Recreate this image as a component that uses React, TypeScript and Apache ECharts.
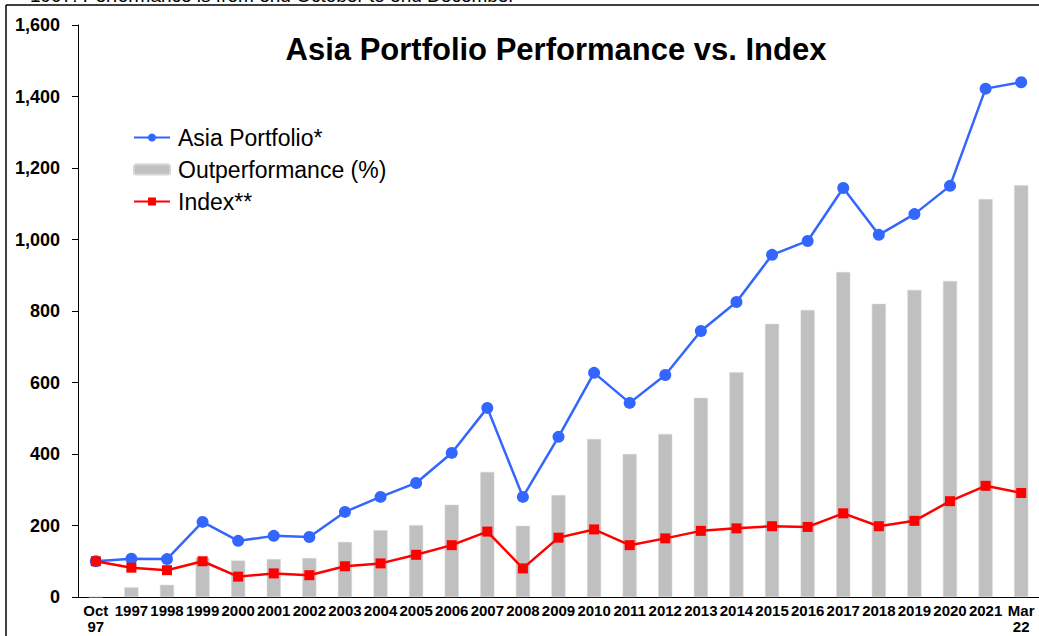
import React, { useEffect, useRef } from "react";
import * as echarts from "echarts";

const categories = ["Oct\n97", "1997", "1998", "1999", "2000", "2001", "2002", "2003", "2004", "2005", "2006", "2007", "2008", "2009", "2010", "2011", "2012", "2013", "2014", "2015", "2016", "2017", "2018", "2019", "2020", "2021", "Mar\n22"];

const asiaPortfolio = [100, 107, 106, 210, 157, 171, 168, 238, 280, 319, 403, 529, 280, 448, 627, 543, 621, 744, 825, 957, 996, 1144, 1013, 1071, 1150, 1422, 1440];

const outperformance = [0, 27, 34, 110, 102, 106, 109, 154, 187, 201, 258, 350, 199, 285, 442, 400, 456, 557, 629, 764, 803, 909, 820, 859, 884, 1113, 1152];

const indexSeries = [100, 82, 75, 100, 57, 66, 61, 86, 94, 118, 145, 183, 80, 166, 189, 145, 164, 185, 192, 198, 196, 234, 198, 213, 268, 311, 291];

const yTicks = [0, 200, 400, 600, 800, 1000, 1200, 1400, 1600];

const FONT = "Arial, 'Liberation Sans', Helvetica, sans-serif";

export default function App() {
  const ref = useRef<HTMLDivElement>(null);
  useEffect(() => {
    if (!ref.current) return;
    const chart = echarts.init(ref.current, null, { renderer: "svg" });
    chart.setOption({
      animation: false,
      backgroundColor: "#ffffff",
      title: {
        text: "Asia Portfolio Performance vs. Index",
        left: 551,
        textAlign: "center",
        top: 29,
        textStyle: { fontFamily: FONT, fontSize: 31, fontWeight: "bold", color: "#000" },
      },
      legend: {
        orient: "vertical",
        left: 128,
        top: 121,
        itemGap: 9,
        itemWidth: 36,
        itemHeight: 10,
        textStyle: { fontFamily: FONT, fontSize: 23, color: "#000", padding: [0, 0, 0, 3] },
        data: [
          { name: "Asia Portfolio*" },
          { name: "Outperformance (%)" },
          { name: "Index**" },
        ],
      },
      graphic: [
        { type: "line", shape: { x1: 6, y1: 5, x2: 1039, y2: 5 }, style: { stroke: "#000", lineWidth: 1.5 } },
        { type: "line", shape: { x1: 6, y1: 5, x2: 6, y2: 636 }, style: { stroke: "#000", lineWidth: 1.5 } },
        {
          type: "text",
          left: 30,
          top: -14,
          style: {
            text: "1997: Performance is from end October to end December",
            fontFamily: FONT,
            fontSize: 19,
            fill: "#000",
          },
        },
      ],
      grid: { left: 78, top: 25, width: 972, height: 572, containLabel: false },
      xAxis: {
        type: "category",
        data: categories,
        boundaryGap: true,
        axisLine: { lineStyle: { color: "#000", width: 1 } },
        axisTick: { interval: 1, length: 5, lineStyle: { color: "#000" } },
        axisLabel: {
          interval: 0,
          margin: 5,
          fontFamily: FONT,
          fontSize: 15,
          fontWeight: "bold",
          color: "#000",
          lineHeight: 16,
        },
        splitLine: { show: false },
      },
      yAxis: {
        type: "value",
        min: 0,
        max: 1600,
        interval: 200,
        axisLine: { show: true, lineStyle: { color: "#000", width: 1 } },
        axisTick: { show: true, length: 6, lineStyle: { color: "#000" } },
        axisLabel: {
          margin: 18,
          fontFamily: FONT,
          fontSize: 18,
          fontWeight: "bold",
          color: "#000",
          formatter: (v: number) => (yTicks.includes(v) ? v.toLocaleString("en-US") : ""),
        },
        splitLine: { show: false },
      },
      series: [
        {
          name: "Outperformance (%)",
          type: "bar",
          data: outperformance,
          barWidth: 14,
          itemStyle: { color: "#c0c0c0", borderColor: "#d4d4d4", borderWidth: 0.5 },
          z: 1,
        },
        {
          name: "Asia Portfolio*",
          type: "line",
          data: asiaPortfolio,
          symbol: "circle",
          symbolSize: 12,
          lineStyle: { color: "#3366ff", width: 2.5 },
          itemStyle: { color: "#3366ff" },
          z: 3,
        },
        {
          name: "Index**",
          type: "line",
          data: indexSeries,
          symbol: "rect",
          symbolSize: 10,
          lineStyle: { color: "#ff0000", width: 2.5 },
          itemStyle: { color: "#ff0000" },
          z: 4,
        },
      ],
    });
    return () => chart.dispose();
  }, []);
  return (
    <div
      ref={ref}
      style={{ position: "fixed", left: 0, top: 0, width: 1039, height: 636, background: "#fff" }}
    />
  );
}
